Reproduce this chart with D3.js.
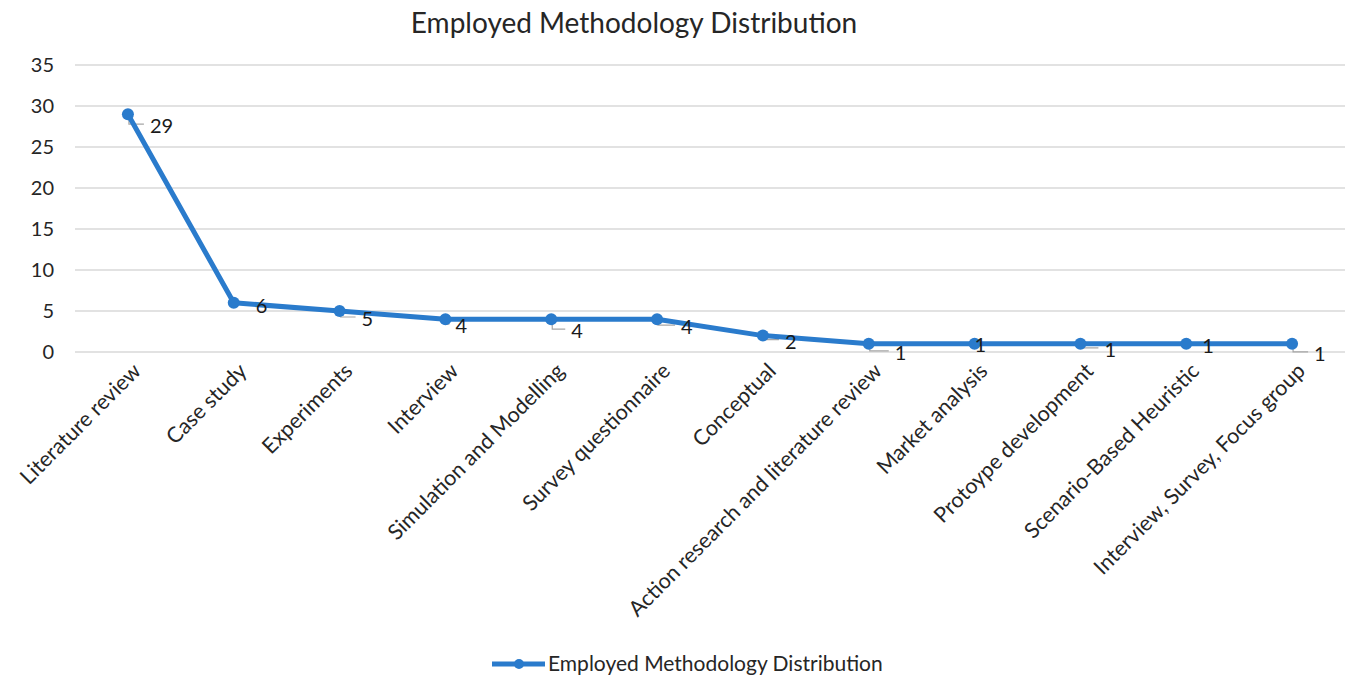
<!DOCTYPE html>
<html>
<head>
<meta charset="utf-8">
<script src="https://d3js.org/d3.v7.min.js"></script>
<style>
  body { margin: 0; background: #fff; }
  text { font-family: Lato, "Open Sans", sans-serif; fill: #262626; }
</style>
</head>
<body>
<div id="my_dataviz"></div>
<script>

// data
var categories = ["Literature review", "Case study", "Experiments", "Interview",
  "Simulation and Modelling", "Survey questionnaire", "Conceptual",
  "Action research and literature review", "Market analysis", "Protoype development",
  "Scenario-Based Heuristic", "Interview, Survey, Focus group"];
var values = [29, 6, 5, 4, 4, 4, 2, 1, 1, 1, 1, 1];
var yTicks = [0, 5, 10, 15, 20, 25, 30, 35];
var seriesName = "Employed Methodology Distribution";

// where each data label sits relative to its point (px)
var labelOffsets = [[22, 12], [22, 3], [22, 8], [10, 7], [20, 12], [24, 8],
  [22, 6], [26, 9], [0, 1], [24, 6], [16, 2], [22, 10]];

var W = 1360, H = 679;
var margin = {top: 65, left: 75, right: 15};
var plotBottom = 352;

var svg = d3.select("#my_dataviz")
  .append("svg")
    .attr("width", W)
    .attr("height", H);

var x = d3.scaleBand()
  .domain(categories)
  .range([margin.left, W - margin.right]);

var y = d3.scaleLinear()
  .domain([0, 35])
  .range([plotBottom, margin.top]);

// title
svg.append("text")
  .attr("x", 634)
  .attr("y", 33)
  .attr("text-anchor", "middle")
  .style("font-size", "28px")
  .text(seriesName);

// gridlines
svg.append("g")
  .selectAll("line")
  .data(yTicks)
  .enter()
  .append("line")
    .attr("x1", margin.left)
    .attr("x2", W - margin.right)
    .attr("y1", function(d) { return y(d); })
    .attr("y2", function(d) { return y(d); })
    .attr("stroke", "#d9d9d9")
    .attr("stroke-width", 1.5);

// y tick labels
svg.append("g")
  .selectAll("text")
  .data(yTicks)
  .enter()
  .append("text")
    .attr("x", 54)
    .attr("y", function(d) { return y(d); })
    .attr("dy", "0.35em")
    .attr("text-anchor", "end")
    .style("font-size", "20px")
    .text(function(d) { return d; });

// x category labels
svg.append("g")
  .selectAll("text")
  .data(categories)
  .enter()
  .append("text")
    .attr("transform", function(d) {
      return "translate(" + (x(d) + x.bandwidth() / 2 + 9) + ",367) rotate(-45)";
    })
    .attr("text-anchor", "end")
    .attr("dy", "0.35em")
    .style("font-size", "21.5px")
    .text(function(d) { return d; });

var pts = categories.map(function(c, i) { return {c: c, v: values[i], i: i}; });
var cx = function(d) { return x(d.c) + x.bandwidth() / 2; };

// leader lines
svg.append("g")
  .selectAll("path")
  .data(pts.filter(function(d) { return labelOffsets[d.i][0] > 5; }))
  .enter()
  .append("path")
    .attr("d", function(d) {
      var px = cx(d), py = y(d.v), o = labelOffsets[d.i];
      return "M" + (px + 1) + "," + (py + 2) + "L" + (px + 1) + "," + (py + o[1] - 2) +
        "L" + (px + o[0] - 6) + "," + (py + o[1] - 2);
    })
    .attr("fill", "none")
    .attr("stroke", "#a6a6a6")
    .attr("stroke-width", 1.2);

// line
var line = d3.line()
  .x(cx)
  .y(function(d) { return y(d.v); });

svg.append("path")
  .datum(pts)
  .attr("d", line)
  .attr("fill", "none")
  .attr("stroke", "#2a7bcc")
  .attr("stroke-width", 5)
  .attr("stroke-linejoin", "round");

// markers
svg.append("g")
  .selectAll("circle")
  .data(pts)
  .enter()
  .append("circle")
    .attr("cx", cx)
    .attr("cy", function(d) { return y(d.v); })
    .attr("r", 6)
    .attr("fill", "#2a7bcc");

// data labels
svg.append("g")
  .selectAll("text")
  .data(pts)
  .enter()
  .append("text")
    .attr("x", function(d) { return cx(d) + labelOffsets[d.i][0]; })
    .attr("y", function(d) { return y(d.v) + labelOffsets[d.i][1]; })
    .attr("dy", "0.35em")
    .style("font-size", "20px")
    .style("fill", "#1a1a1a")
    .text(function(d) { return d.v; });

// legend
var lg = svg.append("g").attr("transform", "translate(492,664)");
lg.append("line")
  .attr("x1", 0).attr("x2", 53)
  .attr("stroke", "#2a7bcc")
  .attr("stroke-width", 5);
lg.append("circle")
  .attr("cx", 27).attr("r", 5)
  .attr("fill", "#2a7bcc");
lg.append("text")
  .attr("x", 56)
  .attr("dy", "0.35em")
  .style("font-size", "21px")
  .text(seriesName);

</script>
</body>
</html>
